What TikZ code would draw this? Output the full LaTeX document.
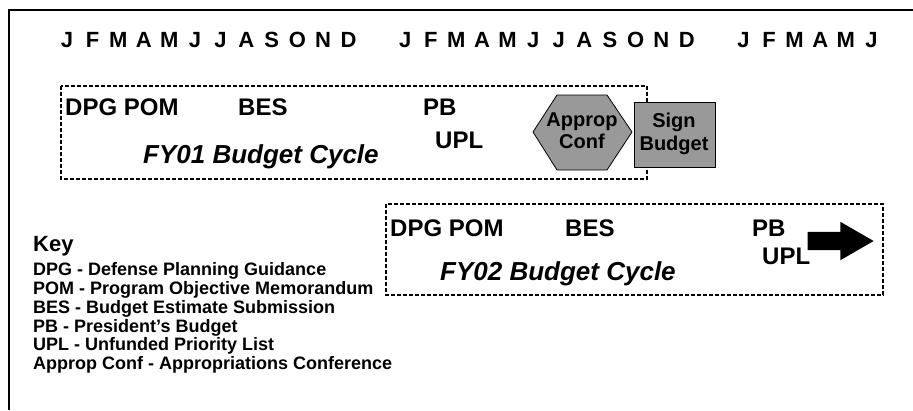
\documentclass[tikz,border=0pt]{standalone}
\usepackage{fontspec}
\setmainfont{Liberation Sans}
\usetikzlibrary{shapes.arrows, positioning}

\begin{document}
\begin{tikzpicture}[x=1pt, y=-1pt,
    month/.style={font=\fontsize{22}{26}\selectfont\bfseries, inner sep=0pt},
    item/.style={font=\fontsize{24}{28}\selectfont\bfseries, inner sep=0pt, anchor=west},
    cyclename/.style={font=\fontsize{26}{30}\selectfont\bfseries\itshape, inner sep=0pt, anchor=west},
    keyline/.style={font=\fontsize{18}{20}\selectfont\bfseries, inner sep=0pt, anchor=west},
    fybox/.style={draw, line width=1.4pt, dash pattern=on 4pt off 2pt},
    grey/.style={fill=black!40, draw=black, line width=0.8pt},
    fatarrow/.style={single arrow, fill=black, inner xsep=0pt, inner ysep=9pt,
      minimum height=66pt, single arrow head extend=10pt, single arrow tip angle=60}]
  \useasboundingbox (0,0) rectangle (913,410);
  \draw[line width=2pt] (913,10) -- (9,10) -- (9,410);

  % months
  \foreach \m [count=\i from 0] in {J,F,M,A,M,J,J,A,S,O,N,D,J,F,M,A,M,J,J,A,S,O,N,D,J,F,M,A,M,J}
    \node[month] (m\i) at ({67+25.6*\i+31*int(\i/12)},40) {\m};

  % FY01 cycle
  \draw[fybox] (61,86) rectangle (647,179);
  \node[item] (dpg1) at (65,107) {DPG POM};
  \node[item] (bes1) at (238,107) {BES};
  \node[item] (pb1) at (423,107) {PB};
  \node[item] (upl1) at (435,140) {UPL};
  \node[cyclename] (fy1) at (143,157) {FY01 Budget Cycle};
  \draw[grey] (533,132) -- (557,95) -- (607,95) -- (632,132) -- (607,170) -- (557,170) -- cycle;
  \node[font=\fontsize{20}{22}\selectfont\bfseries, align=center, inner sep=0pt] (approp) at (582,131) {Approp\\Conf};
  \draw[grey] (634,102) rectangle (715,167);
  \node[font=\fontsize{20}{23}\selectfont\bfseries, align=center, inner sep=0pt] (sign) at (674,134) {Sign\\Budget};

  % FY02 cycle
  \draw[fybox] (386,204) rectangle (883,295);
  \node[item] (dpg2) at (390,228) {DPG POM};
  \node[item] (bes2) at (565,228) {BES};
  \node[item] (pb2) at (752,228) {PB};
  \node[item] (upl2) at (762,256) {UPL};
  \node[cyclename] (fy2) at (440,274) {FY02 Budget Cycle};
  \node[fatarrow, anchor=tip] (next) at (874,241) {};

  % key
  \node[font=\fontsize{22}{26}\selectfont\bfseries, inner sep=0pt, anchor=west] (key) at (33,246) {Key};
  \foreach \t [count=\i from 0] in {DPG - Defense Planning Guidance,
      POM - Program Objective Memorandum, BES - Budget Estimate Submission,
      PB - President's Budget, UPL - Unfunded Priority List,
      Approp Conf - Appropriations Conference}
    \node[keyline] (k\i) at (33,{271+18.8*\i}) {\t};
\end{tikzpicture}
\end{document}
